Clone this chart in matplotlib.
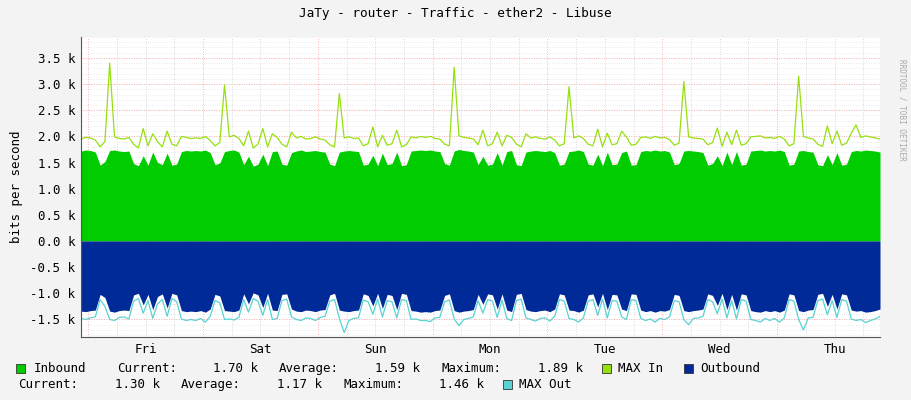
import matplotlib
matplotlib.use("Agg")
import matplotlib.pyplot as plt
import numpy as np
from matplotlib.patches import Rectangle

day_labels = ["Fri", "Sat", "Sun", "Mon", "Tue", "Wed", "Thu"]
# hourly values starting Thu 22:00 (k bits/s)
inbound = [
 1.72,1.74,1.73,1.70,1.45,1.52,1.73,1.74,1.72,1.71,1.72,1.48,1.44,1.63,1.45,1.70,1.50,1.46,1.68,1.45,1.47,1.71,1.73,1.72,
 1.73,1.72,1.74,1.69,1.46,1.49,1.71,1.73,1.74,1.70,1.46,1.62,1.43,1.47,1.66,1.44,1.71,1.72,1.47,1.45,1.69,1.72,1.74,1.71,
 1.72,1.73,1.71,1.70,1.47,1.44,1.70,1.72,1.73,1.72,1.71,1.45,1.47,1.64,1.44,1.68,1.46,1.48,1.70,1.44,1.46,1.72,1.73,1.74,
 1.73,1.74,1.72,1.71,1.48,1.45,1.72,1.75,1.73,1.72,1.70,1.46,1.62,1.45,1.47,1.69,1.45,1.71,1.73,1.46,1.44,1.70,1.72,1.73,
 1.72,1.71,1.73,1.69,1.45,1.47,1.71,1.72,1.74,1.71,1.47,1.45,1.66,1.44,1.70,1.46,1.47,1.69,1.72,1.45,1.46,1.71,1.73,1.72,
 1.74,1.72,1.73,1.70,1.46,1.48,1.72,1.73,1.72,1.71,1.69,1.45,1.48,1.63,1.44,1.70,1.46,1.71,1.45,1.47,1.72,1.73,1.74,1.72,
 1.73,1.72,1.74,1.71,1.45,1.47,1.72,1.73,1.71,1.70,1.46,1.44,1.65,1.46,1.69,1.45,1.47,1.71,1.73,1.72,1.74,1.73,1.72,1.70,
]
max_in = [
 1.95,1.98,1.97,1.93,1.80,1.90,3.40,1.99,1.96,1.95,1.98,1.85,1.78,2.15,1.82,2.05,1.90,1.80,2.10,1.85,1.82,2.00,1.98,1.96,
 1.97,1.96,2.00,1.92,1.82,1.88,2.98,1.99,2.02,1.96,1.82,2.10,1.78,1.85,2.15,1.80,2.05,1.98,1.85,1.80,2.08,1.97,2.00,1.95,
 1.96,1.99,1.95,1.93,1.84,1.80,2.82,1.97,1.99,1.96,1.97,1.82,1.86,2.18,1.80,2.02,1.83,1.86,2.12,1.80,1.84,1.99,1.97,2.00,
 1.98,2.00,1.96,1.95,1.85,1.82,3.32,2.01,1.98,1.97,1.95,1.84,2.12,1.82,1.86,2.08,1.82,2.02,1.98,1.85,1.80,2.05,1.97,1.99,
 1.96,1.95,1.99,1.93,1.82,1.86,2.95,1.97,2.01,1.96,1.85,1.82,2.14,1.80,2.06,1.84,1.86,2.10,1.99,1.83,1.85,1.98,1.99,1.96,
 2.00,1.97,1.98,1.94,1.83,1.87,3.05,1.99,1.97,1.96,1.95,1.84,1.88,2.16,1.81,2.08,1.84,2.12,1.83,1.86,1.99,2.00,2.01,1.97,
 1.98,1.96,2.00,1.95,1.82,1.86,3.15,2.00,1.97,1.95,1.85,1.81,2.20,1.86,2.10,1.83,1.87,2.06,2.22,1.98,2.01,1.99,1.97,1.95,
]
outbound = [
 1.34,1.35,1.33,1.32,1.02,1.08,1.34,1.36,1.33,1.32,1.33,1.03,1.00,1.22,1.02,1.31,1.06,1.01,1.28,1.00,1.03,1.33,1.35,1.34,
 1.35,1.33,1.36,1.30,1.02,1.05,1.33,1.34,1.35,1.32,1.01,1.20,0.99,1.03,1.27,1.00,1.32,1.33,1.02,1.01,1.30,1.34,1.35,1.32,
 1.33,1.35,1.32,1.31,1.03,1.00,1.32,1.34,1.35,1.33,1.32,1.01,1.04,1.24,1.00,1.29,1.02,1.04,1.31,1.00,1.02,1.33,1.34,1.36,
 1.35,1.36,1.33,1.32,1.04,1.01,1.33,1.36,1.34,1.33,1.31,1.02,1.21,1.01,1.03,1.30,1.01,1.32,1.35,1.02,1.00,1.31,1.34,1.35,
 1.33,1.32,1.35,1.30,1.01,1.03,1.32,1.33,1.36,1.32,1.03,1.01,1.26,1.00,1.31,1.02,1.03,1.30,1.33,1.01,1.02,1.32,1.35,1.33,
 1.36,1.33,1.34,1.31,1.02,1.04,1.33,1.35,1.33,1.32,1.30,1.01,1.04,1.23,1.00,1.31,1.02,1.32,1.01,1.03,1.33,1.35,1.36,1.33,
 1.35,1.33,1.36,1.32,1.01,1.03,1.33,1.35,1.32,1.31,1.02,1.00,1.25,1.02,1.30,1.01,1.03,1.32,1.34,1.33,1.36,1.35,1.33,1.30,
]
max_out = [
 1.48,1.50,1.47,1.45,1.12,1.25,1.50,1.52,1.46,1.45,1.49,1.15,1.10,1.38,1.14,1.48,1.20,1.12,1.44,1.10,1.16,1.49,1.52,1.50,
 1.52,1.48,1.55,1.44,1.14,1.18,1.50,1.49,1.51,1.46,1.12,1.36,1.10,1.15,1.42,1.12,1.50,1.48,1.14,1.11,1.45,1.50,1.52,1.47,
 1.48,1.52,1.46,1.44,1.15,1.12,1.48,1.75,1.52,1.48,1.47,1.13,1.16,1.40,1.11,1.45,1.14,1.16,1.47,1.12,1.14,1.50,1.49,1.52,
 1.52,1.54,1.47,1.46,1.16,1.13,1.49,1.62,1.50,1.48,1.45,1.14,1.38,1.12,1.15,1.46,1.13,1.48,1.52,1.14,1.11,1.47,1.50,1.53,
 1.48,1.47,1.53,1.44,1.12,1.15,1.48,1.50,1.55,1.47,1.15,1.12,1.42,1.11,1.47,1.14,1.15,1.45,1.50,1.12,1.14,1.48,1.52,1.49,
 1.55,1.48,1.50,1.45,1.14,1.16,1.50,1.60,1.48,1.47,1.44,1.12,1.16,1.39,1.11,1.47,1.14,1.49,1.12,1.15,1.50,1.52,1.55,1.48,
 1.52,1.48,1.55,1.47,1.12,1.15,1.50,1.70,1.47,1.46,1.14,1.11,1.41,1.14,1.46,1.12,1.15,1.49,1.52,1.50,1.56,1.52,1.49,1.44,
]
yticks = [-1.5,-1.0,-0.5,0.0,0.5,1.0,1.5,2.0,2.5,3.0,3.5]

FS = 9
plt.rcParams['font.family'] = ['DejaVu Sans Mono']
fig = plt.figure(figsize=(9.11, 4.0), dpi=100, facecolor='#f3f3f3')
ax = fig.add_axes([81/911, 1-337/400, 799/911, 300/400])
ax.set_facecolor('white')

n = len(inbound)
x = np.arange(n) + 0.5
inb = np.array(inbound); mi = np.array(max_in); ob = -np.array(outbound); mo = -np.array(max_out)

ax.fill_between(x, 0, inb, color='#00cc00', lw=0)
ax.fill_between(x, 0, ob, color='#002a97', lw=0)
ax.plot(x, mi, color='#96e010', lw=0.9)
ax.plot(x, mo, color='#5ad2d2', lw=0.9)

ax.set_xlim(0.5, n - 0.5)
ax.set_ylim(-1.835, 3.9)
for v in np.arange(-1.8, 3.95, 0.1):
    ax.axhline(v, color='#dddddd', lw=0.5, ls=(0, (1, 2)), zorder=0.5)
for v in yticks:
    ax.axhline(v, color='#ff9999', lw=0.6, ls=(0, (1, 2)), zorder=0.5)
for h in range(2, n, 6):
    is_mid = (h - 2) % 24 == 0
    ax.axvline(h, color='#ff9999' if is_mid else '#cccccc', lw=0.6, ls=(0, (1, 2)), zorder=0.5)

ax.set_yticks(yticks)
ax.set_yticklabels([f"{v:.1f} k" for v in yticks], fontsize=FS)
ax.set_xticks([14 + 24 * i for i in range(7)])
ax.set_xticklabels(day_labels, fontsize=FS)
ax.tick_params(length=0, pad=4)
for s in ['top', 'right']:
    ax.spines[s].set_visible(False)
for s in ['left', 'bottom']:
    ax.spines[s].set_color('#555555')
ax.set_ylabel('bits per second', fontsize=FS, labelpad=5)

fig.text(0.5, 1 - 14/400, 'JaTy - router - Traffic - ether2 - Libuse', ha='center', va='center', fontsize=9.2)
fig.text(902/911, 1 - 110/400, 'RRDTOOL / TOBI OETIKER', rotation=270, ha='center', va='center', fontsize=5.5, color='#aaaaaa')

def box(xp, yp, c):
    fig.patches.append(Rectangle((xp/911, 1 - (yp+1)/400), 9/911, 9/400, transform=fig.transFigure, facecolor=c, edgecolor='#333333', lw=0.6))
def t(xp, yp, s):
    fig.text(xp/911, 1 - yp/400, s, fontsize=FS, va='baseline', ha='left')
r1, r2 = 372, 388
box(16, r1, '#00cc00'); t(34, r1, 'Inbound')
t(117, r1, 'Current:'); t(213, r1, '1.70 k')
t(279, r1, 'Average:'); t(375, r1, '1.59 k')
t(441, r1, 'Maximum:'); t(538, r1, '1.89 k')
box(602, r1, '#96e010'); t(618, r1, 'MAX In')
box(684, r1, '#002a97'); t(700, r1, 'Outbound')
t(18, r2, 'Current:'); t(115, r2, '1.30 k')
t(181, r2, 'Average:'); t(277, r2, '1.17 k')
t(343, r2, 'Maximum:'); t(439, r2, '1.46 k')
box(503, r2, '#5ad2d2'); t(519, r2, 'MAX Out')

fig.savefig('out.png', dpi=100, facecolor=fig.get_facecolor())
